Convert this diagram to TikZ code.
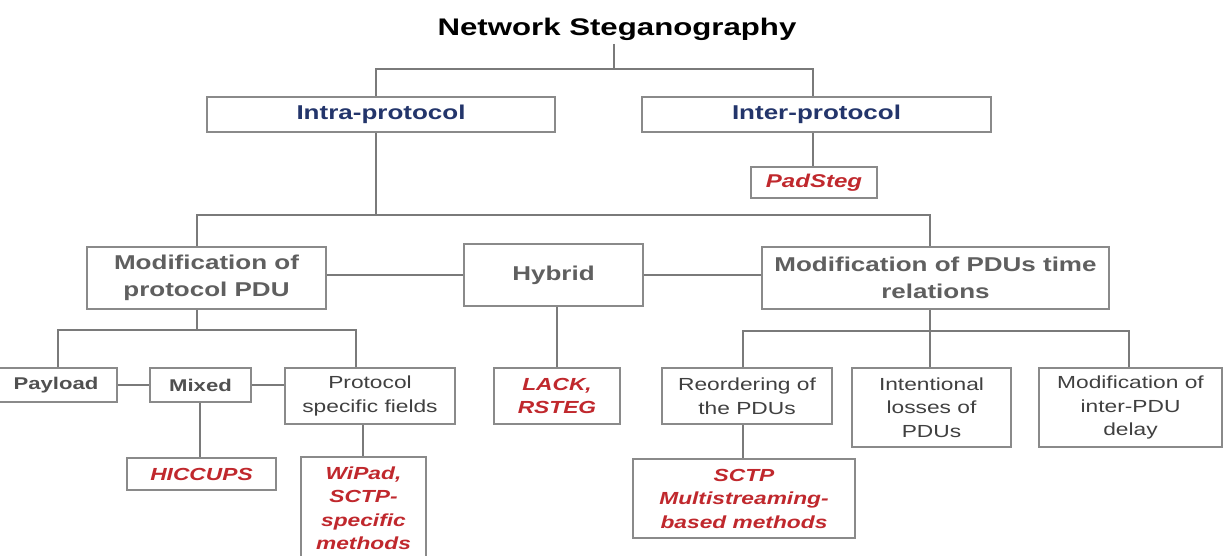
\documentclass[tikz,border=0pt]{standalone}
\usepackage{fontspec}
\setmainfont[FakeStretch=1.3]{Liberation Sans}
\definecolor{bluec}{HTML}{23356B}
\definecolor{modc}{HTML}{5F5F5F}
\definecolor{smc}{HTML}{505050}
\definecolor{regc}{HTML}{404040}
\definecolor{redc}{HTML}{C0282D}
\definecolor{boxc}{HTML}{8A8A8A}
\definecolor{linec}{HTML}{7A7A7A}
\begin{document}
\begin{tikzpicture}[x=1pt,y=-1pt,
  box/.style={draw=boxc, line width=1.6pt, inner sep=0pt, align=center, fill=white},
  ln/.style={draw=linec, line width=1.6pt},
  ttitle/.style={font=\bfseries\fontsize{24}{28}\selectfont, text=black},
  tblue/.style={font=\bfseries\fontsize{20}{24}\selectfont, text=bluec},
  tmod/.style={font=\bfseries\fontsize{20}{27}\selectfont, text=modc},
  tsmb/.style={font=\bfseries\fontsize{17}{21}\selectfont, text=smc},
  treg/.style={font=\fontsize{17.5}{23.5}\selectfont, text=regc},
  tred/.style={font=\bfseries\itshape\fontsize{17.5}{23.5}\selectfont, text=redc}]
\useasboundingbox (0,0) rectangle (1224,556);

% nodes
\node[ttitle] (title) at (617,29) {Network Steganography};
\node[box, tblue, minimum width=348pt, minimum height=35pt] (intra) at (381,114.5) {Intra-protocol};
\node[box, tblue, minimum width=349pt, minimum height=35pt] (inter) at (816.5,114.5) {Inter-protocol};
\node[box, tred, font=\bfseries\itshape\fontsize{18.5}{23}\selectfont, minimum width=126pt, minimum height=31pt] (padsteg) at (814,182.5) {PadSteg};

\node[box, tmod, minimum width=239pt, minimum height=62pt] (modpdu) at (206.5,278) {Modification of\\protocol PDU};
\node[box, tmod, minimum width=179pt, minimum height=62pt] (hybrid) at (553.5,275) {Hybrid};
\node[box, tmod, minimum width=347pt, minimum height=62pt] (modtime) at (935.5,278) {Modification of PDUs time\\relations};

\node[box, tsmb, minimum width=122pt, minimum height=34pt] (payload) at (56,385) {Payload};
\node[box, tsmb, minimum width=101pt, minimum height=34pt] (mixed) at (200.5,385) {Mixed};
\node[box, treg, minimum width=170pt, minimum height=56pt] (psf) at (370,396) {Protocol\\specific fields};
\node[box, tred, minimum width=149pt, minimum height=32pt] (hiccups) at (201.5,474) {HICCUPS};
\node[box, tred, minimum width=125pt, minimum height=102pt] (wipad) at (363.5,508) {WiPad,\\SCTP-\\specific\\methods};

\node[box, tred, minimum width=126pt, minimum height=56pt] (lack) at (557,396) {LACK,\\RSTEG};

\node[box, treg, minimum width=170pt, minimum height=56pt] (reorder) at (747,396) {Reordering of\\the PDUs};
\node[box, treg, minimum width=159pt, minimum height=79pt] (intent) at (931.5,407.5) {Intentional\\losses of\\PDUs};
\node[box, treg, minimum width=183pt, minimum height=79pt] (interpdu) at (1130.5,407.5) {Modification of\\inter-PDU\\delay};
\node[box, tred, minimum width=222pt, minimum height=79pt] (sctp) at (744,498.5) {SCTP\\Multistreaming-\\based methods};

% junction coordinates
\coordinate (ja) at (376,69);
\coordinate (jb) at (813,69);
\coordinate (jc) at (614,69);
\coordinate (ji) at (376,215);
\coordinate (jm) at (197,215);
\coordinate (jt) at (930,215);
\coordinate (jp) at (197,330);
\coordinate (jpl) at (58,330);
\coordinate (jpr) at (356,330);
\coordinate (jt2) at (930,331);
\coordinate (jr) at (743,331);
\coordinate (jq) at (1129,331);
\coordinate (jx) at (200,400);
\coordinate (jw) at (363,440);

% connectors
\draw[ln] (title.south -| jc) -- (jc);
\draw[ln] (intra.north -| ja) |- (jc) -| (inter.north -| jb);
\draw[ln] (inter.south -| jb) -- (padsteg.north -| jb);
\draw[ln] (intra.south -| ja) -- (ji);
\draw[ln] (modpdu.north -| jm) |- (ji) -| (modtime.north -| jt);
\draw[ln] (modpdu.east |- hybrid.west) -- (hybrid.west);
\draw[ln] (hybrid.east) -- (modtime.west |- hybrid.east);
\draw[ln] (hybrid.south -| lack.north) -- (lack.north);

\draw[ln] (modpdu.south -| jp) -- (jp);
\draw[ln] (payload.north -| jpl) |- (jp) -| (psf.north -| jpr);
\draw[ln] (payload.east) -- (mixed.west);
\draw[ln] (mixed.east) -- (psf.west |- mixed.east);
\draw[ln] (mixed.south -| jx) -- (hiccups.north -| jx);
\draw[ln] (psf.south -| jw) -- (wipad.north -| jw);

\draw[ln] (modtime.south -| jt2) -- (jt2);
\draw[ln] (reorder.north -| jr) |- (jt2) -| (interpdu.north -| jq);
\draw[ln] (intent.north -| jt2) -- (jt2);
\draw[ln] (reorder.south -| jr) -- (sctp.north -| jr);
\end{tikzpicture}
\end{document}
